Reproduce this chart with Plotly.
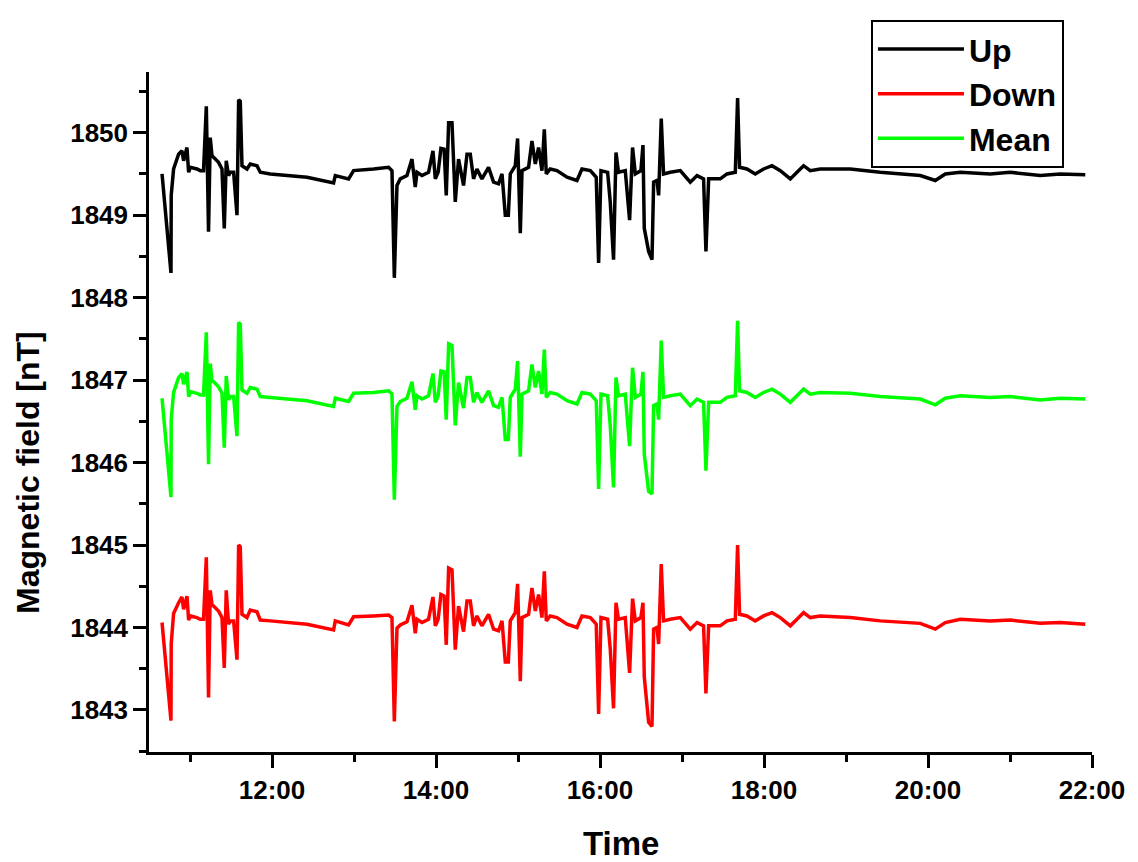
import pandas as pd
import plotly.graph_objects as go

# time of day in decimal hours
hours = [
    10.659, 10.768, 10.771, 10.800, 10.861, 10.902, 10.922, 10.963, 10.983, 11.003,
    11.085, 11.125, 11.165, 11.199, 11.226, 11.247, 11.268, 11.308, 11.348, 11.390,
    11.418, 11.442, 11.470, 11.492, 11.532, 11.573, 11.593, 11.613, 11.634, 11.695,
    11.735, 11.817, 11.857, 11.979, 12.427, 12.751, 12.772, 12.934, 12.995, 13.239,
    13.422, 13.463, 13.492, 13.524, 13.564, 13.646, 13.707, 13.747, 13.768, 13.829,
    13.909, 13.963, 13.992, 14.026, 14.060, 14.099, 14.125, 14.154, 14.195, 14.235,
    14.275, 14.336, 14.378, 14.418, 14.458, 14.499, 14.560, 14.641, 14.702, 14.763,
    14.805, 14.845, 14.882, 14.906, 14.967, 14.995, 15.028, 15.049, 15.129, 15.170,
    15.211, 15.251, 15.292, 15.321, 15.345, 15.393, 15.475, 15.598, 15.719, 15.780,
    15.882, 15.954, 15.983, 16.012, 16.093, 16.125, 16.165, 16.195, 16.226, 16.308,
    16.361, 16.397, 16.431, 16.499, 16.524, 16.540, 16.593, 16.634, 16.654, 16.695,
    16.715, 16.747, 16.775, 16.857, 16.979, 17.101, 17.183, 17.263, 17.292, 17.325,
    17.467, 17.549, 17.650, 17.678, 17.702, 17.792, 17.893, 17.995, 18.098, 18.199,
    18.321, 18.402, 18.483, 18.564, 18.686, 19.052, 19.418, 19.906, 20.089, 20.211,
    20.394, 20.759, 21.003, 21.369, 21.613, 21.918,
]

up = [
    1849.50, 1848.30, 1849.24, 1849.56, 1849.74, 1849.78, 1849.66, 1849.82, 1849.52, 1849.58,
    1849.56, 1849.54, 1849.54, 1850.32, 1848.80, 1849.94, 1849.72, 1849.68, 1849.64, 1849.56,
    1848.84, 1849.66, 1849.48, 1849.52, 1849.52, 1849.00, 1850.40, 1850.38, 1849.60, 1849.56,
    1849.62, 1849.60, 1849.52, 1849.50, 1849.46, 1849.39, 1849.48, 1849.44, 1849.54, 1849.56,
    1849.58, 1849.54, 1848.24, 1849.36, 1849.44, 1849.48, 1849.68, 1849.34, 1849.52, 1849.48,
    1849.52, 1849.78, 1849.44, 1849.52, 1849.81, 1849.80, 1849.24, 1850.12, 1850.12, 1849.16,
    1849.68, 1849.36, 1849.74, 1849.74, 1849.44, 1849.56, 1849.44, 1849.58, 1849.40, 1849.38,
    1849.50, 1849.00, 1849.00, 1849.50, 1849.60, 1849.93, 1848.78, 1849.54, 1849.58, 1849.90,
    1849.62, 1849.82, 1849.54, 1850.04, 1849.50, 1849.56, 1849.54, 1849.46, 1849.42, 1849.56,
    1849.54, 1849.46, 1848.42, 1849.54, 1849.52, 1849.16, 1848.46, 1849.76, 1849.52, 1849.54,
    1848.94, 1849.82, 1849.50, 1849.54, 1849.85, 1848.84, 1848.56, 1848.46, 1849.40, 1849.42,
    1849.24, 1850.17, 1849.50, 1849.52, 1849.54, 1849.40, 1849.48, 1849.44, 1848.56, 1849.44,
    1849.44, 1849.50, 1849.52, 1850.42, 1849.58, 1849.56, 1849.50, 1849.56, 1849.60, 1849.54,
    1849.44, 1849.52, 1849.60, 1849.54, 1849.56, 1849.56, 1849.52, 1849.48, 1849.42, 1849.50,
    1849.52, 1849.50, 1849.52, 1849.48, 1849.50, 1849.49,
]

down = [
    1844.06, 1842.87, 1843.80, 1844.17, 1844.30, 1844.37, 1844.22, 1844.38, 1844.09, 1844.14,
    1844.12, 1844.10, 1844.10, 1844.85, 1843.15, 1844.45, 1844.28, 1844.24, 1844.20, 1844.12,
    1843.51, 1844.45, 1844.04, 1844.08, 1844.08, 1843.61, 1845.00, 1844.98, 1844.16, 1844.12,
    1844.21, 1844.19, 1844.09, 1844.08, 1844.04, 1843.97, 1844.08, 1844.03, 1844.13, 1844.14,
    1844.15, 1844.12, 1842.86, 1843.99, 1844.03, 1844.07, 1844.27, 1843.93, 1844.10, 1844.06,
    1844.10, 1844.37, 1844.02, 1844.10, 1844.40, 1844.38, 1843.79, 1844.72, 1844.70, 1843.73,
    1844.26, 1843.95, 1844.32, 1844.32, 1844.02, 1844.14, 1844.02, 1844.16, 1843.98, 1843.96,
    1844.08, 1843.58, 1843.58, 1844.08, 1844.18, 1844.53, 1843.35, 1844.12, 1844.16, 1844.48,
    1844.20, 1844.40, 1844.12, 1844.68, 1844.08, 1844.14, 1844.12, 1844.04, 1844.00, 1844.14,
    1844.12, 1844.04, 1842.95, 1844.12, 1844.10, 1843.74, 1843.02, 1844.30, 1844.10, 1844.12,
    1843.45, 1844.35, 1844.08, 1844.12, 1844.30, 1843.40, 1842.85, 1842.80, 1843.98, 1844.00,
    1843.80, 1844.77, 1844.08, 1844.10, 1844.12, 1843.98, 1844.06, 1844.02, 1843.20, 1844.02,
    1844.02, 1844.08, 1844.10, 1845.00, 1844.16, 1844.14, 1844.08, 1844.14, 1844.18, 1844.12,
    1844.02, 1844.10, 1844.18, 1844.12, 1844.14, 1844.12, 1844.08, 1844.05, 1843.98, 1844.06,
    1844.10, 1844.08, 1844.09, 1844.05, 1844.06, 1844.04,
]

mean = [
    1846.78, 1845.58, 1846.52, 1846.85, 1847.03, 1847.08, 1846.95, 1847.10, 1846.80, 1846.86,
    1846.84, 1846.82, 1846.82, 1847.58, 1845.98, 1847.20, 1847.00, 1846.96, 1846.92, 1846.84,
    1846.18, 1847.05, 1846.76, 1846.80, 1846.80, 1846.32, 1847.70, 1847.68, 1846.88, 1846.84,
    1846.91, 1846.89, 1846.80, 1846.79, 1846.75, 1846.68, 1846.78, 1846.74, 1846.84, 1846.85,
    1846.87, 1846.83, 1845.55, 1846.68, 1846.74, 1846.78, 1846.98, 1846.64, 1846.81, 1846.77,
    1846.81, 1847.08, 1846.73, 1846.81, 1847.11, 1847.10, 1846.52, 1847.44, 1847.42, 1846.45,
    1846.97, 1846.66, 1847.03, 1847.03, 1846.73, 1846.85, 1846.73, 1846.87, 1846.69, 1846.67,
    1846.79, 1846.28, 1846.28, 1846.79, 1846.89, 1847.23, 1846.07, 1846.83, 1846.87, 1847.19,
    1846.91, 1847.11, 1846.83, 1847.37, 1846.79, 1846.85, 1846.83, 1846.75, 1846.71, 1846.85,
    1846.83, 1846.75, 1845.68, 1846.83, 1846.81, 1846.45, 1845.70, 1847.03, 1846.81, 1846.83,
    1846.20, 1847.15, 1846.79, 1846.83, 1847.10, 1846.10, 1845.65, 1845.62, 1846.69, 1846.71,
    1846.52, 1847.48, 1846.79, 1846.81, 1846.83, 1846.69, 1846.77, 1846.73, 1845.90, 1846.73,
    1846.73, 1846.79, 1846.81, 1847.72, 1846.87, 1846.85, 1846.79, 1846.85, 1846.89, 1846.83,
    1846.73, 1846.81, 1846.89, 1846.83, 1846.85, 1846.84, 1846.80, 1846.77, 1846.70, 1846.78,
    1846.81, 1846.79, 1846.80, 1846.76, 1846.78, 1846.77,
]

series_names = ["Up", "Down", "Mean"]
series_colors = ["#000000", "#ff0000", "#00ff00"]

x_title = "Time"
y_title = "Magnetic field [nT]"

base = pd.Timestamp("2000-01-01")
times = base + pd.to_timedelta(hours, unit="h")

FONT = "Liberation Sans, Arial, sans-serif"

fig = go.Figure()
for name, vals, col in zip(series_names, [up, down, mean], series_colors):
    fig.add_trace(go.Scatter(x=times, y=vals, mode="lines", name=name,
                             line=dict(color=col, width=3.5)))

axis_common = dict(
    showline=True, linecolor="black", linewidth=2.5, mirror=False,
    showgrid=False, zeroline=False,
    ticks="outside", ticklen=13, tickwidth=2.5, tickcolor="black",
    tickfont=dict(family=FONT, size=26, color="black", weight="bold"),
)

# the page body adds an 8px offset, so the figure is 8px smaller than the window
fig.update_layout(
    width=1130, height=854,
    margin=dict(l=141, r=46, t=54, b=110),
    paper_bgcolor="white", plot_bgcolor="white",
    font=dict(family=FONT, color="black"),
    xaxis=dict(
        type="date",
        range=[base + pd.Timedelta(hours=10.5), base + pd.Timedelta(hours=22)],
        tick0=base, dtick=2 * 3600 * 1000, tickformat="%H:%M",
        minor=dict(dtick=3600 * 1000, ticks="outside", ticklen=7, tickwidth=2.5, tickcolor="black"),
        **axis_common,
    ),
    yaxis=dict(
        range=[1842.49, 1850.736],
        tick0=0, dtick=1,
        minor=dict(dtick=0.5, ticks="outside", ticklen=7, tickwidth=2.5, tickcolor="black"),
        **axis_common,
    ),
    showlegend=True,
    legend=dict(
        x=0.7656, y=1.0768, xanchor="left", yanchor="top",
        bordercolor="black", borderwidth=2, bgcolor="white",
        font=dict(family=FONT, size=32, color="black", weight="bold"),
        itemwidth=86, tracegroupgap=0,
    ),
    annotations=[
        dict(text=x_title, xref="paper", yref="paper", x=0.5, y=-0.135,
             xanchor="center", yanchor="middle", showarrow=False,
             font=dict(family=FONT, size=33, color="black", weight="bold")),
        dict(text=y_title, xref="paper", yref="paper", x=-0.1285, y=0.4116,
             xanchor="center", yanchor="middle", showarrow=False, textangle=-90,
             font=dict(family=FONT, size=32, color="black", weight="bold")),
    ],
)

fig.write_html("out.html")
